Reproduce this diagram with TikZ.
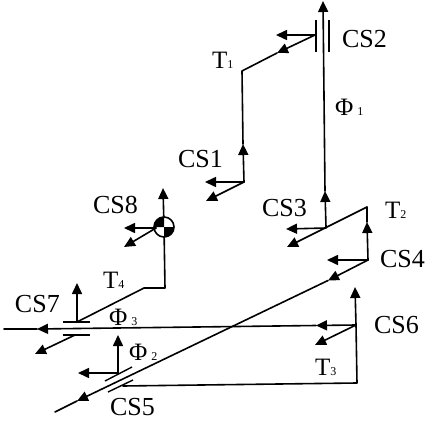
\documentclass[tikz,border=0pt]{standalone}
\usepackage{fontspec}
\setmainfont{Liberation Serif}
\usetikzlibrary{arrows.meta}
\tikzset{
  wire/.style={line width=1.6pt,line cap=round,line join=round,black},
  arrowwire/.style={wire,-{Triangle[length=11pt,width=10pt]}},
  plate/.style={line width=1.4pt,black},
  lab/.style={anchor=base west,inner sep=0pt,outer sep=0pt,font=\fontsize{26}{28}\selectfont},
  tlab/.style={anchor=base west,inner sep=0pt,outer sep=0pt,font=\fontsize{25}{27}\selectfont}
}
\newcommand{\subsc}[1]{{\fontsize{12}{12}\selectfont #1}}
\begin{document}
\begin{tikzpicture}[x=1pt,y=-1pt]
\useasboundingbox (0,0) rectangle (426,423);
% coordinates
\coordinate (f1b) at (326,227); \coordinate (f1m) at (325,191); \coordinate (f1t) at (323,1);
\coordinate (p2a) at (316,20); \coordinate (p2b) at (316,52);
\coordinate (p2c) at (329,20); \coordinate (p2d) at (329,52);
\coordinate (cs2) at (315,35); \coordinate (cs2l) at (276,35);
\coordinate (t1m) at (277,53); \coordinate (t1k) at (242,71); \coordinate (t1v) at (243,144);
\coordinate (cs1) at (244,182); \coordinate (cs1l) at (205,182); \coordinate (cs1d) at (206,201);
\coordinate (cs3l) at (286,229); \coordinate (cs3j) at (326,228);
\coordinate (t2k) at (367,207); \coordinate (cs3d) at (287,247);
\coordinate (t2v) at (367,222); \coordinate (cs4) at (368,260); \coordinate (cs4l) at (327,260);
\coordinate (d1) at (328,280.5); \coordinate (d2) at (77,401); \coordinate (dend) at (55,412);
\coordinate (cs6t) at (355,287); \coordinate (cs6) at (356,325); \coordinate (cs6b) at (357,383);
\coordinate (h1) at (316,325.5); \coordinate (h2) at (37,329); \coordinate (hend) at (4,329);
\coordinate (cs6d) at (315,345);
\coordinate (cs5) at (123,386);
\coordinate (q1) at (108,392); \coordinate (q2) at (133,380);
\coordinate (q3) at (105,381); \coordinate (q4) at (132,367);
\coordinate (f2) at (118,373); \coordinate (f2u) at (118,335); \coordinate (f2l) at (78,373);
\coordinate (r1) at (63,322); \coordinate (r2) at (90,322);
\coordinate (r3) at (63,335); \coordinate (r4) at (90,335);
\coordinate (cs7) at (77,322); \coordinate (cs7u) at (77,283);
\coordinate (cs7l) at (75,335); \coordinate (cs7d) at (35,354);
\coordinate (t4a) at (144,288); \coordinate (t4b) at (165,288);
\coordinate (c8t) at (163,188); \coordinate (c8) at (164,227);
\coordinate (c8j) at (156,228); \coordinate (c8l) at (124,228); \coordinate (c8d) at (124,247);
% CS2 and flow 1
\draw[arrowwire] (f1b) -- (f1m);
\draw[arrowwire] (f1m) -- (f1t);
\draw[plate] (p2a) -- (p2b);
\draw[plate] (p2c) -- (p2d);
\draw[arrowwire] (cs2) -- (cs2l);
% T1
\draw[arrowwire] (cs2) -- (t1m);
\draw[wire] (t1m) -- (t1k) -- (t1v);
\draw[arrowwire] (cs1) -- (t1v);
\draw[arrowwire] (cs1) -- (cs1l);
\draw[arrowwire] (cs1) -- (cs1d);
% T2
\draw[arrowwire] (cs3j) -- (cs3l);
\draw[arrowwire] (t2k) -- (cs3d);
\draw[wire] (t2k) -- (t2v);
\draw[arrowwire] (cs4) -- (t2v);
\draw[arrowwire] (cs4) -- (cs4l);
\draw[arrowwire] (cs4) -- (d1);
\draw[arrowwire] (d1) -- (d2);
\draw[wire] (d2) -- (dend);
% T3
\draw[arrowwire] (cs6) -- (cs6t);
\draw[wire] (cs6) -- (cs6b) -- (cs5);
\draw[arrowwire] (cs6) -- (h1);
\draw[arrowwire] (h1) -- (h2);
\draw[wire] (h2) -- (hend);
\draw[arrowwire] (cs6) -- (cs6d);
\draw[plate] (q1) -- (q2);
\draw[plate] (q3) -- (q4);
\draw[arrowwire] (f2) -- (f2u);
\draw[arrowwire] (f2) -- (f2l);
% T4
\draw[plate] (r1) -- (r2);
\draw[plate] (r3) -- (r4);
\draw[arrowwire] (cs7) -- (cs7u);
\draw[arrowwire] (cs7l) -- (cs7d);
\draw[wire] (cs7) -- (t4a) -- (t4b) -- (c8);
\draw[arrowwire] (c8) -- (c8t);
% CS8 ball: with the flipped y axis, 180-270 is the upper left quadrant
\fill[white] (c8) circle (10);
\fill[black] (c8) -- ++(-10,0) arc[start angle=180,end angle=270,radius=10] -- cycle;
\fill[black] (c8) -- ++(10,0) arc[start angle=0,end angle=90,radius=10] -- cycle;
\draw[line width=1.6pt] (c8) circle (10);
\draw[arrowwire] (c8j) -- (c8l);
\draw[arrowwire] (c8j) -- (c8d);
% labels
\node[lab] (lcs1) at (178,167) {CS1};
\node[lab] (lcs2) at (342,47) {CS2};
\node[lab] (lcs3) at (262,216) {CS3};
\node[lab] (lcs4) at (380,267) {CS4};
\node[lab] (lcs5) at (110,415) {CS5};
\node[lab] (lcs6) at (374,333) {CS6};
\node[lab] (lcs7) at (15,312) {CS7};
\node[lab] (lcs8) at (93,213) {CS8};
\node[tlab] (lt1) at (212,68) {T\subsc{1}};
\node[tlab] (lt2) at (385,218) {T\subsc{2}};
\node[tlab] (lt3) at (315,375) {T\subsc{3}};
\node[tlab] (lt4) at (103,288) {T\subsc{4}};
\node[tlab] (lf1) at (335,115) {Φ\,\subsc{1}};
\node[tlab] (lf2) at (129,360) {Φ\,\subsc{2}};
\node[tlab] (lf3) at (109,325) {Φ\,\subsc{3}};
\end{tikzpicture}
\end{document}
